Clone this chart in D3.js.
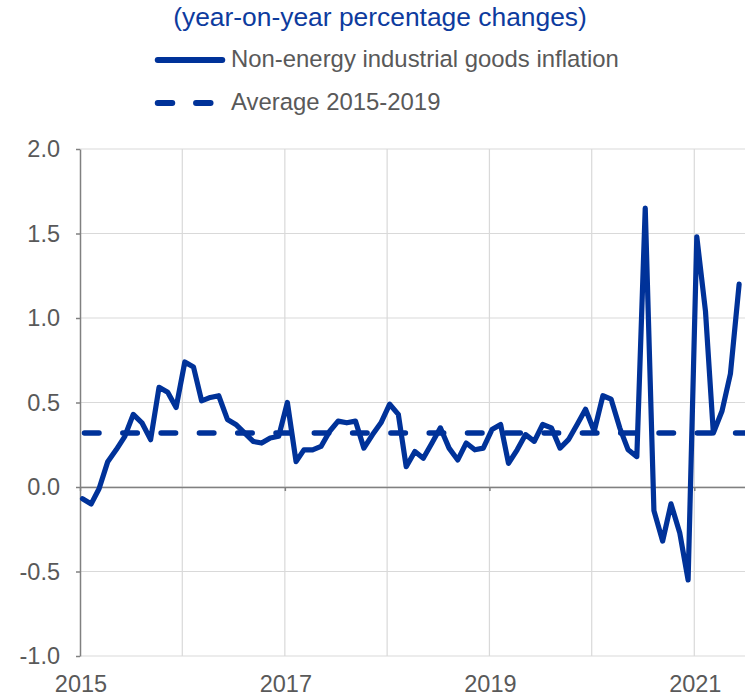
<html lang="en">

<head>
    <meta charset="UTF-8">
    <script src="https://d3js.org/d3.v7.min.js"></script>
    <title>Non-energy industrial goods inflation</title>
    <style>
        body {
            margin: 0;
            background: #fff;
        }

        svg text {
            font-family: "Liberation Sans", Arial, sans-serif;
        }
    </style>
</head>

<body>
    <section></section>

    <script>
        // monthly y-o-y changes, Jan 2015 - Jun 2021
        const startYear = 2015;
        const neigValues = [
            -0.07, -0.10, -0.01, 0.15, 0.22, 0.30, 0.43, 0.38, 0.28, 0.59, 0.56, 0.47,
            0.74, 0.71, 0.51, 0.53, 0.54, 0.40, 0.37, 0.32, 0.27, 0.26, 0.29, 0.30,
            0.50, 0.15, 0.22, 0.22, 0.24, 0.33, 0.39, 0.38, 0.39, 0.23, 0.31, 0.38,
            0.49, 0.43, 0.12, 0.21, 0.17, 0.26, 0.35, 0.23, 0.16, 0.26, 0.22, 0.23,
            0.34, 0.37, 0.14, 0.22, 0.31, 0.27, 0.37, 0.35, 0.23, 0.28, 0.37, 0.46,
            0.33, 0.54, 0.52, 0.35, 0.22, 0.18, 1.65, -0.14, -0.32, -0.10, -0.27, -0.55,
            1.48, 1.04, 0.32, 0.45, 0.67, 1.20
        ];
        const average = 0.32;
        const yTicks = [-1.0, -0.5, 0.0, 0.5, 1.0, 1.5, 2.0];
        const xTickYears = [2015, 2017, 2019, 2021];
        const gridYears = [2016, 2017, 2018, 2019, 2020, 2021];
        const title = '(year-on-year percentage changes)';
        const legendLabels = ['Non-energy industrial goods inflation', 'Average 2015-2019'];

        const w = 745;
        const h = 697;
        const blue = '#003299';
        const grey = '#595959';

        const dataset = neigValues.map((v, i) => ({ date: new Date(startYear, i, 10), value: v }));

        const svg = d3.select('section')
            .append('svg')
            .attr('width', w)
            .attr('height', h);

        const xScale = d3.scaleTime()
            .domain([new Date(2015, 0, 1), new Date(2021, 6, 1)])
            .range([80, 745]);

        const yScale = d3.scaleLinear()
            .domain([-1, 2])
            .range([656, 149]);

        // grid
        svg.append('g')
            .selectAll('line')
            .data(yTicks)
            .enter()
            .append('line')
            .attr('x1', xScale.range()[0])
            .attr('x2', xScale.range()[1])
            .attr('y1', d => yScale(d))
            .attr('y2', d => yScale(d))
            .attr('stroke', '#d9d9d9')
            .attr('stroke-width', 1.2);

        svg.append('g')
            .selectAll('line')
            .data(gridYears)
            .enter()
            .append('line')
            .attr('x1', d => xScale(new Date(d, 0, 1)))
            .attr('x2', d => xScale(new Date(d, 0, 1)))
            .attr('y1', yScale(2))
            .attr('y2', yScale(-1))
            .attr('stroke', '#d9d9d9')
            .attr('stroke-width', 1.2);

        // y axis (plain hyphen for negatives, like the original)
        const yAxis = d3.axisLeft(yScale)
            .tickValues(yTicks)
            .tickFormat(d => d.toFixed(1))
            .tickSizeInner(4)
            .tickSizeOuter(0)
            .tickPadding(16);

        const yg = svg.append('g')
            .attr('transform', 'translate(' + xScale.range()[0] + ',0)')
            .call(yAxis);
        yg.select('.domain').attr('stroke', '#808080').attr('stroke-width', 1.5);
        yg.selectAll('.tick line').attr('stroke', '#808080').attr('stroke-width', 1.5);
        yg.selectAll('.tick text')
            .attr('fill', grey)
            .style('font-size', '23.5px');

        // x axis on zero line
        const xAxis = d3.axisBottom(xScale)
            .tickValues(xTickYears.map(y => new Date(y, 0, 1)))
            .tickFormat('')
            .tickSizeInner(4)
            .tickSizeOuter(0);

        const xg = svg.append('g')
            .attr('transform', 'translate(0,' + yScale(0) + ')')
            .call(xAxis);
        xg.select('.domain').attr('stroke', '#808080').attr('stroke-width', 1.5);
        xg.selectAll('.tick line').attr('stroke', '#808080').attr('stroke-width', 1.5);

        svg.append('g')
            .selectAll('text')
            .data(xTickYears)
            .enter()
            .append('text')
            .attr('x', d => xScale(new Date(d, 0, 1)) + 1)
            .attr('y', 692)
            .attr('text-anchor', 'middle')
            .attr('fill', grey)
            .style('font-size', '23.5px')
            .text(d => d);

        // average line
        svg.append('line')
            .attr('x1', xScale.range()[0])
            .attr('x2', xScale.range()[1])
            .attr('y1', yScale(average))
            .attr('y2', yScale(average))
            .attr('stroke', blue)
            .attr('stroke-width', 5.5)
            .attr('stroke-linecap', 'round')
            .attr('stroke-dasharray', '14.5,23.8')
            .attr('stroke-dashoffset', -4.5);

        // series line
        const line = d3.line()
            .x(d => xScale(d.date))
            .y(d => yScale(d.value));

        svg.append('path')
            .datum(dataset)
            .attr('d', line)
            .attr('fill', 'none')
            .attr('stroke', blue)
            .attr('stroke-width', 5.2)
            .attr('stroke-linejoin', 'round')
            .attr('stroke-linecap', 'round');

        // title + legend
        svg.append('text')
            .attr('x', 380)
            .attr('y', 26)
            .attr('text-anchor', 'middle')
            .attr('fill', '#0d3b9e')
            .style('font-size', '26.4px')
            .text(title);

        const legend = svg.append('g');
        legend.append('line')
            .attr('x1', 157.75).attr('x2', 222.25)
            .attr('y1', 60).attr('y2', 60)
            .attr('stroke', blue)
            .attr('stroke-width', 6)
            .attr('stroke-linecap', 'round');
        legend.append('line')
            .attr('x1', 157.75).attr('x2', 210.6)
            .attr('y1', 103).attr('y2', 103)
            .attr('stroke', blue)
            .attr('stroke-width', 6)
            .attr('stroke-linecap', 'round')
            .attr('stroke-dasharray', '14.5,23.8');

        legend.selectAll('text')
            .data(legendLabels)
            .enter()
            .append('text')
            .attr('x', 231)
            .attr('y', (d, i) => 67 + i * 43)
            .attr('fill', grey)
            .style('font-size', '23.9px')
            .text(d => d);
    </script>
</body>

</html>
